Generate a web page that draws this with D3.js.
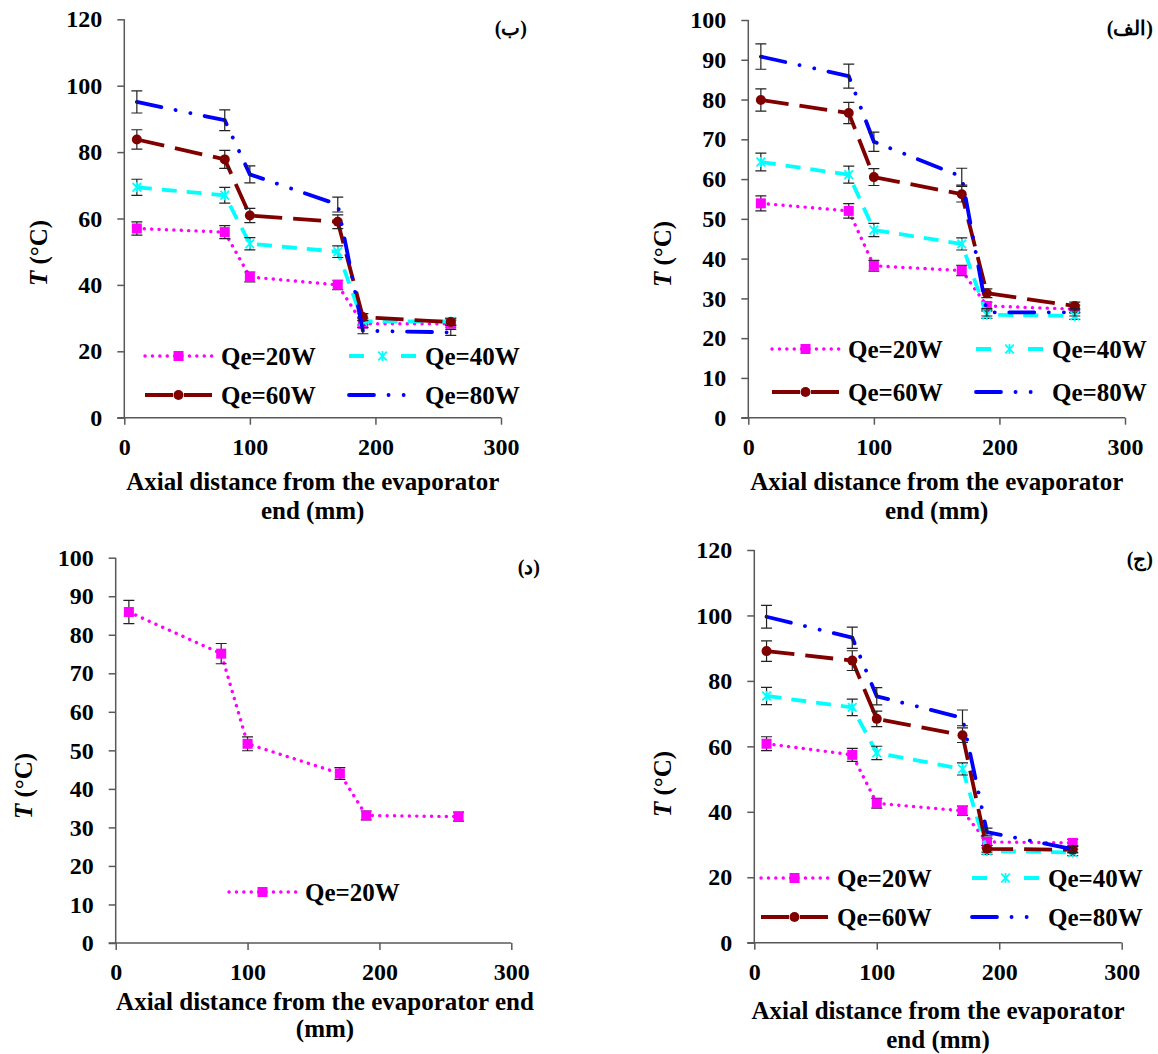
<!DOCTYPE html>
<html><head><meta charset="utf-8">
<script src="https://cdn.jsdelivr.net/npm/d3@7"></script>
<style>
html,body{margin:0;padding:0;background:#fff;}
svg{display:block;}
text{font-family:'Liberation Serif','Times New Roman','DejaVu Serif',serif;font-weight:bold;fill:#000;}
</style></head>
<body>
<svg id="chart" width="1158" height="1054"></svg>
<script>
// ---------- data ----------
const xPositions = [10, 80, 100, 170, 190, 260];        // mm
const seriesNames = ["Qe=20W", "Qe=40W", "Qe=60W", "Qe=80W"];
const errorFraction = 0.035;                            // percentage error bars

// panel (ب) top-left
const bQ20 = [57.0, 55.9, 42.4, 40.0, 28.3, 28.3];
const bQ40 = [69.4, 67.0, 52.4, 50.0, 29.0, 29.0];
const bQ60 = [83.8, 77.8, 60.9, 59.0, 30.3, 28.8];
const bQ80 = [95.1, 89.6, 73.3, 64.2, 26.2, 25.7];
// panel (الف) top-right
const aQ20 = [53.9, 52.0, 38.2, 37.0, 28.1, 27.3];
const aQ40 = [64.3, 61.1, 47.2, 43.7, 25.9, 25.6];
const aQ60 = [79.9, 76.6, 60.5, 56.2, 31.3, 28.1];
const aQ80 = [90.8, 85.9, 69.4, 60.6, 26.5, 26.5];
// panel (د) bottom-left
const dQ20 = [85.9, 75.1, 51.7, 44.0, 33.1, 32.8];
// panel (ج) bottom-right
const jQ20 = [60.8, 57.4, 42.6, 40.3, 30.8, 30.5];
const jQ40 = [75.4, 71.9, 58.0, 53.1, 28.0, 27.6];
const jQ60 = [89.1, 86.2, 68.4, 63.4, 28.7, 28.4];
const jQ80 = [99.6, 93.2, 75.3, 68.7, 33.8, 28.6];

const xTicks = [0, 100, 200, 300];
const yTicks120 = [0, 20, 40, 60, 80, 100, 120];
const yTicks100 = [0, 10, 20, 30, 40, 50, 60, 70, 80, 90, 100];
const panelLabels = ["(ب)", "(الف)", "(د)", "(ج)"];
const yTitleText = "T";
const xTitleTwoLines = ["Axial distance from the evaporator", "end (mm)"];
const xTitleBL = ["Axial distance from the evaporator end", "(mm)"];

// ---------- styles ----------
const styles = [
  {color:"#FF00FF", width:3.4, dash:"0.1,7.3", cap:"round", marker:"square", legendDash:"0.1,7.3"},
  {color:"#00FFFF", width:3.8, dash:"15,10", cap:"butt", marker:"star", legendDash:"15,37,15"},
  {color:"#800000", width:3.8, dash:"28,11", cap:"butt", marker:"circle", legendDash:"28,11,28"},
  {color:"#0000FF", width:3.8, dash:"25,14.5,0.1,15,0.1,14.5", cap:"round", marker:"none", legendDash:"25,14.5,0.1,15,0.1,30"}
];

const panels = [
  {x0:124.3, x1:501, yTop:19.3, yBot:417.7, yMax:120, ticks:yTicks120,
   data:[bQ20,bQ40,bQ60,bQ80], label:panelLabels[0], labelX:527, labelY:35,
   legX:[145,349], legY:[356,395], yTitleX:47, yTitleY:253,
   xTitle:xTitleTwoLines, xTitleX:312.7, xTitleY:[490,519]},
  {x0:748.3, x1:1125, yTop:20, yBot:417.7, yMax:100, ticks:yTicks100,
   data:[aQ20,aQ40,aQ60,aQ80], label:panelLabels[1], labelX:1153, labelY:35,
   legX:[772,976], legY:[349,392], yTitleX:671, yTitleY:254,
   xTitle:xTitleTwoLines, xTitleX:936.7, xTitleY:[490,519]},
  {x0:115.7, x1:511.3, yTop:557.7, yBot:943, yMax:100, ticks:yTicks100,
   data:[dQ20], label:panelLabels[2], labelX:540, labelY:574,
   legX:[229], legY:[892], yTitleX:32, yTitleY:786,
   xTitle:xTitleBL, xTitleX:325, xTitleY:[1010,1037]},
  {x0:754.3, x1:1121.7, yTop:550, yBot:942.7, yMax:120, ticks:yTicks120,
   data:[jQ20,jQ40,jQ60,jQ80], label:panelLabels[3], labelX:1153, labelY:566,
   legX:[761,972], legY:[878,917], yTitleX:671, yTitleY:784,
   xTitle:xTitleTwoLines, xTitleX:938, xTitleY:[1019,1048]}
];

const svg = d3.select("#chart");
const axisColor = "#595959";

function drawMarker(g, type, color, x, y) {
  if (type === "square") {
    g.append("rect").attr("x", x-5).attr("y", y-5).attr("width", 10).attr("height", 10).attr("fill", color);
  } else if (type === "circle") {
    g.append("circle").attr("cx", x).attr("cy", y).attr("r", 5).attr("fill", color);
  } else if (type === "star") {
    g.append("path").attr("d", `M${x-4.3},${y-4.3}L${x+4.3},${y+4.3}M${x-4.3},${y+4.3}L${x+4.3},${y-4.3}M${x},${y-5}L${x},${y+5}`)
      .attr("stroke", color).attr("stroke-width", 1.8).attr("fill", "none");
  }
}

panels.forEach(p => {
  const g = svg.append("g");
  const x = d3.scaleLinear().domain([0, 300]).range([p.x0, p.x1]);
  const y = d3.scaleLinear().domain([0, p.yMax]).range([p.yBot, p.yTop]);

  // axes
  const yAxis = d3.axisLeft(y).tickValues(p.ticks).tickSize(7).tickPadding(15).tickSizeOuter(0);
  const xAxis = d3.axisBottom(x).tickValues(xTicks).tickSize(7).tickPadding(13).tickSizeOuter(0);
  const ga = g.append("g").attr("transform", `translate(${p.x0},0)`).call(yAxis);
  const gb = g.append("g").attr("transform", `translate(0,${p.yBot})`).call(xAxis);
  [ga, gb].forEach(a => {
    a.select(".domain").attr("stroke", axisColor).attr("stroke-width", 1.5);
    a.selectAll(".tick line").attr("stroke", axisColor).attr("stroke-width", 1.5);
    a.selectAll(".tick text").attr("font-size", 24).attr("font-family", "'Liberation Serif',serif")
      .attr("font-weight", "bold").attr("fill", "#000");
  });
  gb.select(".domain").attr("d", `M${p.x0-7},0H${p.x1}`);
  ga.select(".domain").attr("d", `M0,${p.yTop}V${p.yBot}`);

  // series
  const line = d3.line().x((d,i) => x(xPositions[i])).y(d => y(d));
  p.data.forEach((vals, si) => {
    const st = styles[si];
    const sg = g.append("g");
    sg.append("path").attr("d", line(vals)).attr("fill", "none").attr("stroke", st.color)
      .attr("stroke-width", st.width).attr("stroke-dasharray", st.dash).attr("stroke-linecap", st.cap);
    vals.forEach((v, i) => {
      const cx = x(xPositions[i]);
      const e = v * errorFraction;
      const y1 = y(v + e), y2 = y(v - e);
      sg.append("path").attr("d", `M${cx},${y1}V${y2}M${cx-5.5},${y1}H${cx+5.5}M${cx-5.5},${y2}H${cx+5.5}`)
        .attr("stroke", "#222").attr("stroke-width", 1.2).attr("fill", "none");
      drawMarker(sg, st.marker, st.color, cx, y(v));
    });
  });

  // legend
  p.data.forEach((vals, si) => {
    const st = styles[si];
    const col = si % 2, row = Math.floor(si / 2);
    const lx = p.legX[col], ly = p.legY[row];
    g.append("line").attr("x1", lx).attr("x2", lx + 67).attr("y1", ly).attr("y2", ly)
      .attr("stroke", st.color).attr("stroke-width", st.width)
      .attr("stroke-dasharray", st.legendDash).attr("stroke-linecap", st.cap);
    drawMarker(g, st.marker, st.color, lx + 33.5, ly);
    g.append("text").attr("x", lx + 76).attr("y", ly + 8.5).attr("font-size", 25).text(seriesNames[si]);
  });

  // y title
  const yt = g.append("text").attr("transform", `translate(${p.yTitleX},${p.yTitleY}) rotate(-90)`)
    .attr("text-anchor", "middle").attr("font-size", 25);
  yt.append("tspan").attr("font-style", "italic").text(yTitleText);
  yt.append("tspan").text(" (°C)");

  // x title
  p.xTitle.forEach((t, i) => {
    g.append("text").attr("x", p.xTitleX).attr("y", p.xTitleY[i]).attr("text-anchor", "middle")
      .attr("font-size", 25).text(t);
  });

  // panel label
  g.append("text").attr("x", p.labelX).attr("y", p.labelY).attr("text-anchor", "end")
    .attr("font-size", 20).attr("font-family", "'Liberation Serif','DejaVu Sans',serif").text(p.label);
});
</script>
</body></html>
